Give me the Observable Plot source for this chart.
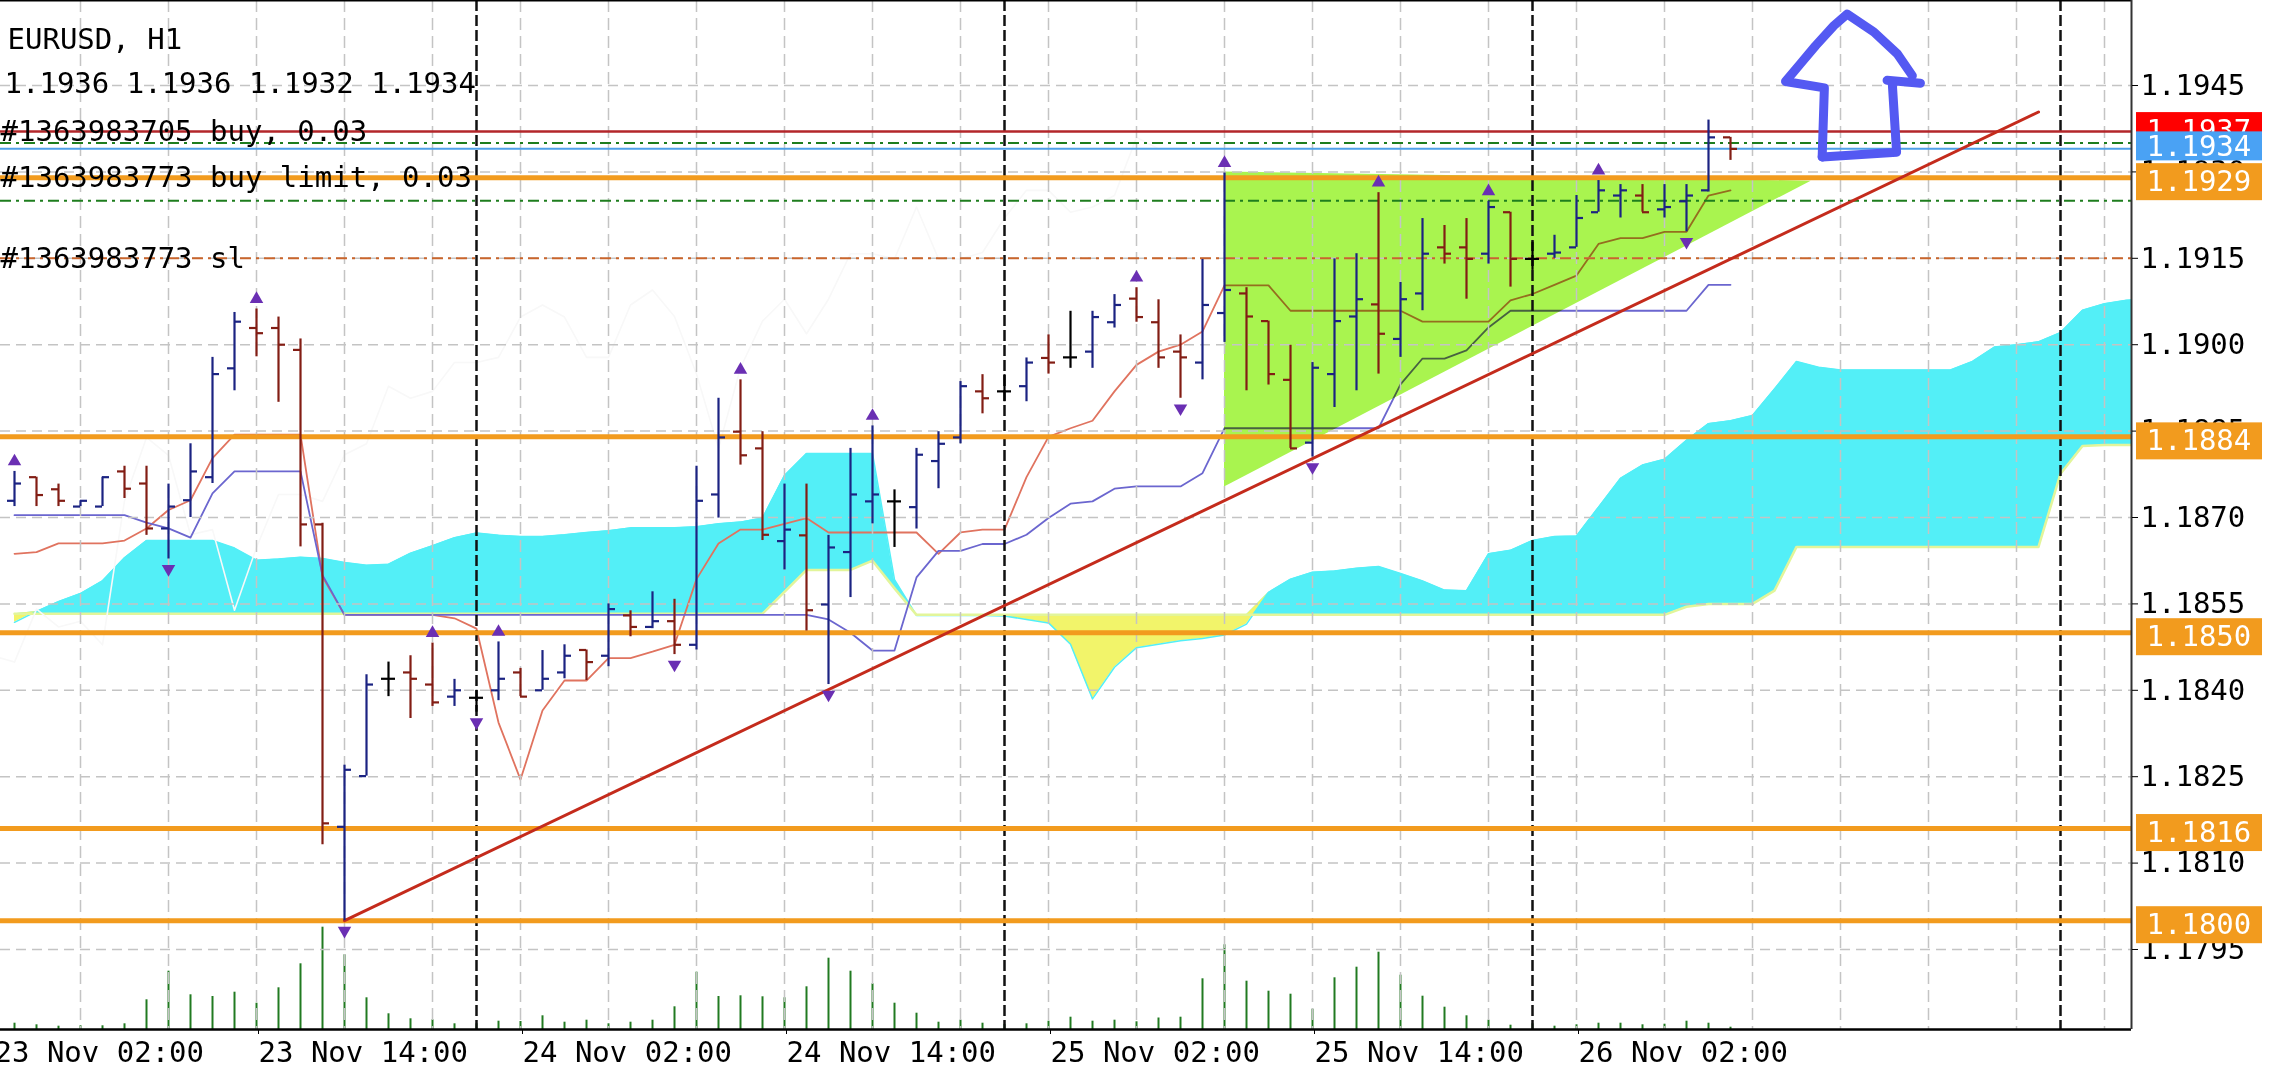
<!DOCTYPE html>
<html><head><meta charset="utf-8">
<script src="https://cdn.jsdelivr.net/npm/d3@7"></script>
<script src="https://cdn.jsdelivr.net/npm/@observablehq/plot@0.6"></script>
<style>
html,body{margin:0;padding:0;background:#fff;}
#wrap{position:relative;width:2289px;height:1073px;overflow:hidden;background:#fff;}
#wrap svg{position:absolute;left:0;top:0;}
</style></head><body><div id="wrap"></div>
<script>
// ---------- DATA ----------
const symbol = "EURUSD, H1";
const firstBar = "2020-11-23T03:00:00Z"; // hourly bars, consecutive
const open  = [1.18729,1.18770,1.18749,1.18719,1.18719,1.18780,1.18759,1.18681,1.18730,1.18770,1.18959,1.19029,1.19029,1.18991,1.18688,1.18163,1.18251,1.18420,1.18431,1.18410,1.18389,1.18387,1.18400,1.18431,1.18400,1.18431,1.18470,1.18460,1.18530,1.18510,1.18520,1.18479,1.18740,1.18849,1.18820,1.18659,1.18669,1.18549,1.18640,1.18728,1.18728,1.18718,1.18798,1.18839,1.18919,1.18919,1.18928,1.18977,1.18978,1.18988,1.19039,1.19080,1.19039,1.18988,1.18969,1.19055,1.19089,1.19041,1.18939,1.18830,1.18949,1.19049,1.19070,1.19010,1.19089,1.19169,1.19169,1.19158,1.19230,1.19149,1.19158,1.19169,1.19230,1.19259,1.19259,1.19235,1.19249,1.19268,1.19360];
const high  = [1.18780,1.18770,1.18758,1.18729,1.18770,1.18789,1.18789,1.18758,1.18828,1.18978,1.19056,1.19062,1.19048,1.19010,1.18690,1.18270,1.18427,1.18449,1.18460,1.18482,1.18419,1.18400,1.18484,1.18438,1.18469,1.18479,1.18470,1.18550,1.18538,1.18571,1.18558,1.18789,1.18907,1.18939,1.18849,1.18758,1.18758,1.18669,1.18820,1.18859,1.18748,1.18820,1.18849,1.18936,1.18948,1.18948,1.18977,1.19017,1.19058,1.19058,1.19087,1.19099,1.19078,1.19017,1.19148,1.19298,1.19099,1.19041,1.18999,1.18969,1.19149,1.19158,1.19264,1.19108,1.19219,1.19207,1.19219,1.19249,1.19230,1.19178,1.19190,1.19259,1.19285,1.19278,1.19278,1.19278,1.19278,1.19390,1.19360];
const low   = [1.18719,1.18719,1.18719,1.18719,1.18719,1.18733,1.18669,1.18628,1.18700,1.18759,1.18920,1.18979,1.18900,1.18649,1.18132,1.18000,1.18251,1.18389,1.18351,1.18372,1.18372,1.18362,1.18382,1.18389,1.18400,1.18420,1.18417,1.18441,1.18493,1.18507,1.18462,1.18470,1.18699,1.18791,1.18660,1.18609,1.18503,1.18410,1.18561,1.18689,1.18648,1.18680,1.18750,1.18828,1.18880,1.18901,1.18901,1.18949,1.18959,1.18959,1.19029,1.19039,1.18959,1.18907,1.18939,1.19004,1.18920,1.18930,1.18820,1.18805,1.18891,1.18920,1.18949,1.18978,1.19059,1.19140,1.19079,1.19140,1.19100,1.19129,1.19150,1.19169,1.19230,1.19220,1.19230,1.19220,1.19196,1.19265,1.19320];
const close = [1.18759,1.18739,1.18729,1.18729,1.18770,1.18750,1.18681,1.18719,1.18780,1.18949,1.19040,1.19020,1.19000,1.18688,1.18169,1.18262,1.18410,1.18420,1.18420,1.18379,1.18400,1.18387,1.18420,1.18389,1.18420,1.18460,1.18449,1.18541,1.18510,1.18520,1.18479,1.18729,1.18839,1.18808,1.18670,1.18679,1.18539,1.18648,1.18740,1.18740,1.18728,1.18809,1.18828,1.18928,1.18907,1.18919,1.18969,1.18969,1.18978,1.19048,1.19069,1.19048,1.18978,1.18978,1.19069,1.19095,1.19049,1.18949,1.18820,1.18960,1.19041,1.19079,1.19019,1.19079,1.19158,1.19158,1.19149,1.19239,1.19149,1.19149,1.19160,1.19220,1.19268,1.19268,1.19230,1.19239,1.19259,1.19360,1.19340];
const volume = [63,47,33,37,37,57,297,583,347,330,373,263,417,657,1023,747,317,157,107,97,57,57,83,80,137,73,93,57,73,93,227,573,330,337,327,317,427,713,583,457,263,163,73,93,63,50,57,83,123,83,93,77,115,123,507,847,483,383,353,203,517,623,773,543,333,223,137,93,43,57,33,47,63,63,47,53,83,63,23];
const tenkan = [1.18637,1.18640,1.18655,1.18655,1.18655,1.18660,1.18681,1.18713,1.18730,1.18803,1.18844,1.18844,1.18844,1.18844,1.18597,1.18531,1.18531,1.18531,1.18531,1.18531,1.18525,1.18507,1.18344,1.18245,1.18365,1.18417,1.18417,1.18456,1.18456,1.18467,1.18479,1.18593,1.18655,1.18679,1.18679,1.18689,1.18699,1.18674,1.18674,1.18674,1.18674,1.18674,1.18637,1.18674,1.18679,1.18679,1.18770,1.18840,1.18855,1.18868,1.18919,1.18965,1.18988,1.19000,1.19023,1.19103,1.19103,1.19103,1.19059,1.19059,1.19059,1.19059,1.19059,1.19059,1.19040,1.19040,1.19040,1.19040,1.19077,1.19088,1.19104,1.19120,1.19175,1.19185,1.19185,1.19196,1.19196,1.19259,1.19268];
const kijun = [1.18704,1.18704,1.18704,1.18704,1.18704,1.18704,1.18691,1.18681,1.18665,1.18742,1.18780,1.18780,1.18780,1.18780,1.18600,1.18531,1.18531,1.18531,1.18531,1.18531,1.18531,1.18531,1.18531,1.18531,1.18531,1.18531,1.18531,1.18531,1.18531,1.18531,1.18531,1.18531,1.18531,1.18531,1.18531,1.18531,1.18531,1.18523,1.18500,1.18469,1.18469,1.18596,1.18642,1.18642,1.18654,1.18654,1.18670,1.18699,1.18724,1.18728,1.18750,1.18754,1.18754,1.18754,1.18777,1.18855,1.18855,1.18855,1.18855,1.18855,1.18855,1.18855,1.18855,1.18931,1.18976,1.18976,1.18990,1.19030,1.19059,1.19059,1.19059,1.19059,1.19059,1.19059,1.19059,1.19059,1.19059,1.19104,1.19104];
const cloudStart = "2020-11-23T03:00:00Z"; // hourly, shifted 26 bars ahead
const spanA = [1.18518,1.18537,1.18554,1.18568,1.18590,1.18630,1.18660,1.18660,1.18660,1.18660,1.18647,1.18626,1.18628,1.18631,1.18629,1.18622,1.18617,1.18619,1.18638,1.18651,1.18665,1.18673,1.18669,1.18667,1.18667,1.18670,1.18674,1.18677,1.18682,1.18682,1.18682,1.18684,1.18689,1.18692,1.18699,1.18773,1.18811,1.18811,1.18811,1.18811,1.18592,1.18530,1.18530,1.18530,1.18530,1.18529,1.18523,1.18517,1.18480,1.18385,1.18440,1.18474,1.18480,1.18486,1.18490,1.18496,1.18515,1.18570,1.18593,1.18605,1.18607,1.18612,1.18615,1.18603,1.18590,1.18574,1.18573,1.18637,1.18643,1.18660,1.18667,1.18668,1.18718,1.18768,1.18791,1.18801,1.18834,1.18863,1.18868,1.18877,1.18923,1.18971,1.18961,1.18956,1.18956,1.18956,1.18956,1.18956,1.18956,1.18971,1.18996,1.19000,1.19005,1.19021,1.19060,1.19071,1.19077,1.19080];
const spanB = [1.18533,1.18533,1.18533,1.18533,1.18533,1.18533,1.18533,1.18533,1.18533,1.18533,1.18533,1.18533,1.18533,1.18533,1.18533,1.18533,1.18533,1.18533,1.18533,1.18533,1.18533,1.18533,1.18533,1.18533,1.18533,1.18533,1.18533,1.18533,1.18533,1.18533,1.18533,1.18533,1.18533,1.18533,1.18533,1.18571,1.18609,1.18609,1.18609,1.18625,1.18577,1.18531,1.18531,1.18531,1.18531,1.18531,1.18531,1.18531,1.18531,1.18531,1.18531,1.18531,1.18531,1.18531,1.18531,1.18531,1.18531,1.18531,1.18531,1.18531,1.18531,1.18531,1.18531,1.18531,1.18531,1.18531,1.18531,1.18531,1.18531,1.18531,1.18531,1.18531,1.18531,1.18531,1.18531,1.18531,1.18545,1.18550,1.18550,1.18550,1.18573,1.18649,1.18649,1.18649,1.18649,1.18649,1.18649,1.18649,1.18649,1.18649,1.18649,1.18649,1.18649,1.18776,1.18824,1.18826,1.18826,1.18826];
const fractalsUp   = ["2020-11-23T03:00Z","2020-11-23T14:00Z","2020-11-23T22:00Z","2020-11-24T01:00Z","2020-11-24T12:00Z","2020-11-24T18:00Z","2020-11-25T06:00Z","2020-11-25T10:00Z","2020-11-25T17:00Z","2020-11-25T22:00Z","2020-11-26T03:00Z"];
const fractalsDown = ["2020-11-23T10:00Z","2020-11-23T18:00Z","2020-11-24T00:00Z","2020-11-24T09:00Z","2020-11-24T16:00Z","2020-11-25T08:00Z","2020-11-25T14:00Z","2020-11-26T07:00Z"];
const supportLevels = [1.1929, 1.1884, 1.1850, 1.1816, 1.1800];
const buyPrice = 1.1937, bidPrice = 1.1934;
const takeProfits = [1.1935, 1.1925];
const stopLoss = 1.1915;
const orderLabels = ["#1363983705 buy, 0.03", "#1363983773 buy limit, 0.03", "#1363983773 sl"];
const orderPrices = [1.1937, 1.1929, 1.1915];
const trendTimes = ["2020-11-23T18:00Z", "2020-11-26T23:00Z"];
const trendPrices = [1.18000, 1.19404];
const triTimes = ["2020-11-25T10:00Z", "2020-11-26T12:40Z"];
const triTop = [1.19300, 1.19284];
const triBottom = [1.18753, 1.19284];
const arrowTimes = ["2020-11-26T13:10Z","2020-11-26T13:16Z","2020-11-26T11:30Z","2020-11-26T12:11Z","2020-11-26T12:52Z","2020-11-26T13:42Z","2020-11-26T14:18Z","2020-11-26T15:31Z","2020-11-26T16:35Z","2020-11-26T17:16Z",
                    "2020-11-26T16:07Z","2020-11-26T17:38Z",
                    "2020-11-26T16:21Z","2020-11-26T16:33Z","2020-11-26T13:10Z"];
const arrowPrices = [1.19326,1.19446,1.19457,1.19488,1.19519,1.19554,1.19574,1.19543,1.19505,1.19467,
                     1.19459,1.19454,
                     1.19456,1.19334,1.19326];
const arrowStroke = [0,0,0,0,0,0,0,0,0,0,1,1,2,2,2];
const yTicks = [1.1795,1.1810,1.1825,1.1840,1.1855,1.1870,1.1885,1.1900,1.1915,1.1930,1.1945];
const xTicks = ["2020-11-23T02:00Z","2020-11-23T14:00Z","2020-11-24T02:00Z","2020-11-24T14:00Z","2020-11-25T02:00Z","2020-11-25T14:00Z","2020-11-26T02:00Z"];
const gridTimes = ["2020-11-23T06:00Z","2020-11-23T10:00Z","2020-11-23T14:00Z","2020-11-23T18:00Z","2020-11-23T22:00Z","2020-11-24T02:00Z","2020-11-24T06:00Z","2020-11-24T10:00Z","2020-11-24T14:00Z","2020-11-24T18:00Z","2020-11-24T22:00Z","2020-11-25T02:00Z","2020-11-25T06:00Z","2020-11-25T10:00Z","2020-11-25T14:00Z","2020-11-25T18:00Z","2020-11-25T22:00Z","2020-11-26T02:00Z","2020-11-26T06:00Z","2020-11-26T10:00Z","2020-11-26T14:00Z","2020-11-26T18:00Z","2020-11-26T22:00Z","2020-11-27T02:00Z"];
const daySeparators = ["2020-11-24T00:00Z","2020-11-25T00:00Z","2020-11-26T00:00Z","2020-11-27T00:00Z"];
const xDomain = [new Date("2020-11-23T02:21:49Z"), new Date("2020-11-27T03:13:38Z")];
const yDomain = [1.178111, 1.195976];

// ---------- BUILD ----------
const W = 2289, H = 1073, MR = 158, MB = 44;
const FONT = "'DejaVu Sans Mono', 'Liberation Mono', monospace";
const t0 = new Date(firstBar), c0 = new Date(cloudStart);
const UP = "#1b2382", DOWN = "#821d14";
const bars = open.map((o, i) => ({t: d3.utcHour.offset(t0, i), o, h: high[i], l: low[i], c: close[i], v: volume[i], tk: tenkan[i], kj: kijun[i]}));
bars.forEach(d => d.col = d.c > d.o ? UP : d.c < d.o ? DOWN : "#000000");
const cloud = spanA.map((a, j) => ({t: d3.utcHour.offset(c0, j), a, b: spanB[j]}));
const byTime = new Map(bars.map(d => [+d.t, d]));
const fUp = fractalsUp.map(s => byTime.get(+new Date(s)));
const fDn = fractalsDown.map(s => byTime.get(+new Date(s)));
const trend = trendTimes.map((s, i) => ({t: new Date(s), p: trendPrices[i]}));
const tri = triTimes.map((s, i) => ({t: new Date(s), lo: triBottom[i], hi: triTop[i]}));
const arrow = arrowTimes.map((s, i) => ({t: new Date(s), p: arrowPrices[i], z: arrowStroke[i]}));
const orders = orderLabels.map((l, i) => ({l, p: orderPrices[i]}));
const last = bars[bars.length - 1];
const ohlcText = [last.o, last.h, last.l, last.c].map(v => v.toFixed(4)).join(" ");
const xEnd = () => xDomain[1];

const volPlot = Plot.plot({
  width: W, height: H, marginLeft: 0, marginRight: MR, marginTop: H - MB - 300, marginBottom: MB,
  style: {background: "transparent"},
  x: {type: "utc", domain: xDomain, axis: null},
  y: {domain: [0, 3000], axis: null},
  marks: [Plot.ruleX(bars, {x: "t", y1: 0, y2: "v", stroke: "#217a21", strokeWidth: 2})]
});

const dashDot = "11,5,3,5";
const main = Plot.plot({
  width: W, height: H, marginLeft: 0, marginRight: MR, marginTop: 0, marginBottom: MB,
  style: {background: "transparent", fontFamily: FONT, fontSize: "29px", color: "#000", overflow: "visible"},
  x: {type: "utc", domain: xDomain, axis: null, label: null},
  y: {domain: yDomain, axis: null, label: null},
  marks: [
    // Ichimoku cloud
    Plot.areaY(cloud, {x: "t", y1: "b", y2: d => Math.max(d.a, d.b), fill: "#53eff7", clip: true}),
    Plot.areaY(cloud, {x: "t", y1: "a", y2: d => Math.max(d.a, d.b), fill: "#f2f46a", clip: true}),
    Plot.lineY(cloud, {x: "t", y: "a", stroke: "#53eff7", strokeWidth: 1.5, clip: true}),
    Plot.lineY(cloud, {x: "t", y: "b", stroke: "#e2f59a", strokeWidth: 2.5, clip: true}),
    // Chikou span (close shifted 26 bars back)
    Plot.lineY(bars, {x: d => d3.utcHour.offset(d.t, -26), y: "c", stroke: "#f8f8f8", strokeWidth: 1.6, clip: true}),
    // Tenkan / Kijun
    Plot.lineY(bars, {x: "t", y: "tk", stroke: "#e0735f", strokeWidth: 1.8}),
    Plot.lineY(bars, {x: "t", y: "kj", stroke: "#6b66cf", strokeWidth: 1.8}),
    // triangle object
    Plot.areaY(tri, {x: "t", y1: "lo", y2: "hi", fill: "#a9f44f", mixBlendMode: "multiply"}),
    // grid
    Plot.ruleY(yTicks, {stroke: "#c4c4c4", strokeWidth: 1.5, strokeDasharray: "10,6"}),
    Plot.ruleX(gridTimes.map(s => new Date(s)), {stroke: "#c4c4c4", strokeWidth: 1.5, strokeDasharray: "12,6"}),
    Plot.ruleX(daySeparators.map(s => new Date(s)), {stroke: "#111", strokeWidth: 2.5, strokeDasharray: "11,4"}),
    // order / level lines
    Plot.ruleY([stopLoss], {stroke: "#c9652c", strokeWidth: 2, strokeDasharray: dashDot}),
    Plot.ruleY(takeProfits, {stroke: "#1e7d1e", strokeWidth: 2, strokeDasharray: dashDot}),
    Plot.ruleY(supportLevels, {stroke: "#f29b1e", strokeWidth: 5}),
    Plot.ruleY([buyPrice], {stroke: "#b3262a", strokeWidth: 2.5}),
    Plot.ruleY([bidPrice], {stroke: "#4e9fe8", strokeWidth: 2}),
    // trend line
    Plot.line(trend, {x: "t", y: "p", stroke: "#c42b1c", strokeWidth: 3}),
    // OHLC bars
    Plot.ruleX(bars, {x: "t", y1: "l", y2: "h", stroke: "col", strokeWidth: 2.2}),
    Plot.ruleY(bars, {x1: "t", x2: "t", y: "o", insetLeft: -7, stroke: "col", strokeWidth: 2.2}),
    Plot.ruleY(bars, {x1: "t", x2: "t", y: "c", insetRight: -7, stroke: "col", strokeWidth: 2.2}),
    // fractals
    Plot.dot(fUp, {x: "t", y: "h", symbol: "triangle", r: 5, fill: "#6a2fb3", stroke: "none", dy: -10}),
    Plot.dot(fDn, {x: "t", y: "l", symbol: "triangle", rotate: 180, r: 5, fill: "#6a2fb3", stroke: "none", dy: 10}),
    // hand-drawn arrow
    Plot.line(arrow, {x: "t", y: "p", z: "z", stroke: "#5459f2", strokeWidth: 9, strokeLinecap: "round", strokeLinejoin: "round"}),
    // texts
    Plot.text([symbol], {frameAnchor: "top-left", dx: 7, dy: 28, lineAnchor: "top", fontSize: 29, fill: "#000"}),
    Plot.text([ohlcText], {frameAnchor: "top-left", dx: 4, dy: 72, lineAnchor: "top", fontSize: 29, fill: "#000"}),
    Plot.text(orders, {frameAnchor: "left", y: "p", text: "l", textAnchor: "start", lineAnchor: "middle", fontSize: 29, fill: "#000"}),
    // frame
    Plot.ruleY([yDomain[1]], {stroke: "#000", strokeWidth: 2}),
    Plot.ruleY([yDomain[0]], {stroke: "#000", strokeWidth: 2.5}),
    Plot.ruleX([xDomain[1]], {stroke: "#333", strokeWidth: 2}),
    // axes
    Plot.axisY(yTicks, {anchor: "right", label: null, tickSize: 6, tickPadding: 3, tickFormat: d => d.toFixed(4), fontSize: 29, stroke: "#000"}),
    Plot.axisX(xTicks.map(s => new Date(s)), {anchor: "bottom", label: null, tickSize: 5, tickPadding: 7, tickFormat: d3.utcFormat("%d %b %H:%M"), textAnchor: "start", dx: 2, fontSize: 29}),
    // price label boxes
    Plot.rect([buyPrice], {x1: xEnd, x2: xEnd, y1: d => d, y2: d => d, insetLeft: 5, insetRight: -131, insetTop: -19, insetBottom: -18, fill: "#ff0000"}),
    Plot.text([buyPrice], {x: xEnd, y: d => d, text: d => d.toFixed(4), dx: 15, dy: -1, textAnchor: "start", fill: "#fff", fontSize: 29}),
    Plot.rect([bidPrice], {x1: xEnd, x2: xEnd, y1: d => d, y2: d => d, insetLeft: 5, insetRight: -131, insetTop: -17, insetBottom: -12, fill: "#4aa2f4"}),
    Plot.text([bidPrice], {x: xEnd, y: d => d, text: d => d.toFixed(4), dx: 15, dy: -2, textAnchor: "start", fill: "#fff", fontSize: 29}),
    Plot.rect(supportLevels, {x1: xEnd, x2: xEnd, y1: d => d, y2: d => d, insetLeft: 5, insetRight: -131, insetTop: -14, insetBottom: -23, fill: "#f29b1e"}),
    Plot.text(supportLevels, {x: xEnd, y: d => d, text: d => d.toFixed(4), dx: 15, dy: 4, textAnchor: "start", fill: "#fff", fontSize: 29})
  ]
});

const wrap = document.getElementById("wrap");
wrap.appendChild(volPlot);
wrap.appendChild(main);
</script>
</body></html>
